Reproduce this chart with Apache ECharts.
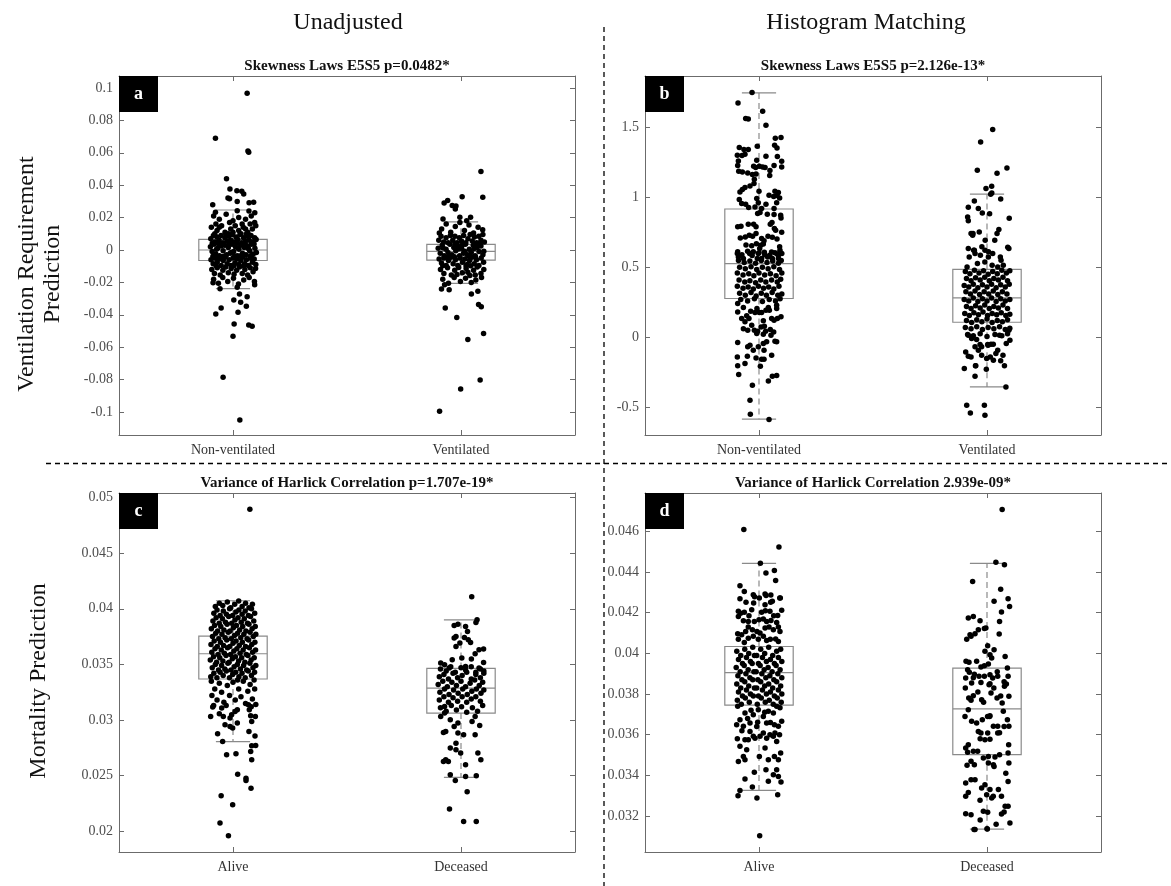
<!DOCTYPE html>
<html>
<head>
<meta charset="utf-8">
<title>Boxplots</title>
<script src="https://cdn.jsdelivr.net/npm/echarts@6/dist/echarts.min.js"></script>
<style>
html, body { margin: 0; padding: 0; background: #fff; }
#chart { width: 1171px; height: 886px; }
</style>
</head>
<body>
<div id="chart"></div>
<script>
// ---- data ----
const ventCategories = ['Non-ventilated', 'Ventilated']
const mortCategories = ['Alive', 'Deceased']
const groupPositions = [1, 3]

const ticksA = [-0.1, -0.08, -0.06, -0.04, -0.02, 0, 0.02, 0.04, 0.06, 0.08, 0.1]
const tickLabelsA = ['-0.1', '-0.08', '-0.06', '-0.04', '-0.02', '0', '0.02', '0.04', '0.06', '0.08', '0.1']
const ticksB = [-0.5, 0, 0.5, 1, 1.5]
const tickLabelsB = ['-0.5', '0', '0.5', '1', '1.5']
const ticksC = [0.02, 0.025, 0.03, 0.035, 0.04, 0.045, 0.05]
const tickLabelsC = ['0.02', '0.025', '0.03', '0.035', '0.04', '0.045', '0.05']
const ticksD = [0.032, 0.034, 0.036, 0.038, 0.04, 0.042, 0.044, 0.046]
const tickLabelsD = ['0.032', '0.034', '0.036', '0.038', '0.04', '0.042', '0.044', '0.046']

// box stats: [lower whisker, q1, median, q3, upper whisker]
const boxesA = [[-0.0239, -0.0065, 0.0, 0.0065, 0.0247], [-0.0206, -0.0062, -0.0009, 0.0035, 0.0173]]
const boxesB = [[-0.587, 0.277, 0.527, 0.918, 1.749], [-0.356, 0.107, 0.281, 0.485, 1.024]]
const boxesC = [[0.02806, 0.03369, 0.03596, 0.03755, 0.04072], [0.02485, 0.03063, 0.03288, 0.03464, 0.03901]]
const boxesD = [[0.03326, 0.03746, 0.03905, 0.04034, 0.04443], [0.03136, 0.03502, 0.03727, 0.03928, 0.04443]]

// points: [jitter from group centre, value]
const ptsANonVent = [
  [0.124,0.0967],[-0.154,0.0689],[0.131,0.0611],[0.138,0.0603],[-0.057,0.044],[-0.027,0.0377],[0.034,0.0366],[0.077,0.0362],
  [0.094,0.0346],[-0.044,0.0321],[-0.03,0.0317],[-0.178,0.028],[0.037,0.03],[0.141,0.0292],[0.181,0.0294],[-0.154,0.0233],
  [0.037,0.0243],[0.191,0.023],[-0.175,-0.0202],[-0.114,-0.0239],[0.037,-0.023],[0.057,-0.0272],[0.124,-0.0288],[0.007,-0.0309],
  [0.067,-0.0323],[0.117,-0.0348],[-0.104,-0.0358],[-0.151,-0.0395],[0.044,-0.0385],[0.01,-0.0457],[0.138,-0.0463],[0.168,-0.0471],
  [0,-0.0533],[-0.087,-0.0786],[0.06,-0.1049],
  [-0.17,0.021],[-0.12,0.019],[-0.06,0.022],[0.0,0.018],[0.05,0.02],[0.11,0.019],[0.16,0.021],[-0.15,0.016],[-0.03,0.017],[0.08,0.016],[0.19,0.017],[0.14,0.024],
  [-0.19,0.014],[-0.14,0.012],[-0.1,0.015],[-0.07,0.011],[-0.02,0.013],[0.02,0.015],[0.05,0.012],[0.09,0.014],[0.13,0.011],[0.17,0.013],[0.2,0.015],[-0.16,0.01],
  [-0.04,0.01],[0.07,0.01],[0.15,0.016],[0.0,0.011],[-0.12,0.014],[0.11,0.013],
  [-0.195,0.007],[-0.172,0.009],[-0.158,0.005],[-0.141,0.008],[-0.122,0.006],[-0.105,0.009],[-0.088,0.0045],[-0.071,0.0075],[-0.052,0.0055],[-0.036,0.0085],
  [-0.018,0.006],[-0.004,0.0095],[0.012,0.005],[0.027,0.008],[0.043,0.0065],[0.061,0.0095],[0.077,0.0045],[0.093,0.0075],[0.109,0.0055],[0.126,0.0085],
  [0.142,0.006],[0.158,0.009],[0.174,0.005],[0.19,0.0075],[0.203,0.0065],[-0.182,0.0042],[-0.063,0.0098],[0.036,0.0043],[0.118,0.0098],[0.167,0.0041],
  [-0.198,0.002],[-0.183,-0.001],[-0.167,0.0035],[-0.151,-0.0025],[-0.135,0.001],[-0.119,-0.0035],[-0.103,0.0025],[-0.087,-0.0005],[-0.071,0.003],[-0.056,-0.003],
  [-0.041,0.0015],[-0.025,-0.002],[-0.009,0.0035],[0.006,-0.001],[0.021,0.002],[0.037,-0.0035],[0.052,0.0005],[0.068,0.003],[0.083,-0.002],[0.099,0.0015],
  [0.114,-0.003],[0.13,0.0025],[0.146,-0.0005],[0.161,0.0035],[0.177,-0.0025],[0.192,0.001],[0.205,-0.0015],[-0.176,-0.0038],[-0.127,0.0038],[-0.078,-0.0038],
  [-0.032,0.0037],[0.015,-0.0039],[0.061,-0.0037],[0.107,0.0039],[0.155,-0.0036],[0.185,0.0037],[-0.145,0.0005],[0.045,0.0012],[-0.015,-0.0015],[0.136,0.0008],
  [-0.193,-0.006],[-0.174,-0.0085],[-0.157,-0.005],[-0.139,-0.0075],[-0.121,-0.0055],[-0.104,-0.0095],[-0.086,-0.0065],[-0.069,-0.0045],[-0.051,-0.0085],[-0.034,-0.006],
  [-0.017,-0.0095],[0.0,-0.005],[0.017,-0.008],[0.034,-0.0055],[0.051,-0.009],[0.068,-0.0065],[0.085,-0.0045],[0.101,-0.0085],[0.118,-0.006],[0.135,-0.0095],
  [0.152,-0.005],[0.169,-0.0075],[0.186,-0.0055],[0.2,-0.009],[-0.148,-0.0098],[-0.095,-0.0042],[0.008,-0.0098],[0.093,-0.0097],[0.16,-0.0042],
  [-0.186,-0.012],[-0.163,-0.0145],[-0.138,-0.011],[-0.112,-0.0155],[-0.089,-0.0125],[-0.064,-0.0105],[-0.041,-0.014],[-0.016,-0.0115],[0.009,-0.015],[0.032,-0.0125],
  [0.057,-0.0105],[0.081,-0.0145],[0.104,-0.012],[0.128,-0.0155],[0.151,-0.011],[0.176,-0.0135],[0.198,-0.0115],
  [-0.17,-0.018],[-0.128,-0.0205],[-0.09,-0.017],[-0.046,-0.0195],[0.004,-0.0175],[0.048,-0.021],[0.094,-0.0185],[0.142,-0.017],[0.188,-0.0195],[0.19,-0.0215]
]
const ptsAVent = [
  [0.175,0.0484],[0.01,0.0329],[0.191,0.0325],[-0.148,0.029],[-0.117,0.0305],[-0.077,0.0274],[-0.05,0.0253],[-0.044,0.0272],[-0.158,0.0191],[-0.01,0.0202],[0.084,0.0202],
  [-0.171,-0.0241],[-0.104,-0.0245],[-0.144,-0.0214],[0.091,-0.0272],[0.148,-0.0255],[-0.138,-0.0358],[0.154,-0.0337],[0.178,-0.035],[-0.037,-0.0416],
  [0.198,-0.0516],[0.06,-0.0553],[0.168,-0.0802],[-0.003,-0.0858],[-0.188,-0.0996],
  [-0.17,0.013],[-0.13,0.016],[-0.09,0.011],[-0.05,0.0145],[-0.01,0.017],[0.03,0.012],[0.07,0.0155],[0.11,0.0105],[0.15,0.014],[-0.19,0.0105],[0.19,0.0125],[0.05,0.018],
  [-0.195,0.006],[-0.175,0.0085],[-0.152,0.005],[-0.131,0.0075],[-0.112,0.0045],[-0.093,0.009],[-0.072,0.006],[-0.053,0.0085],[-0.034,0.0045],[-0.015,0.0075],
  [0.004,0.0055],[0.023,0.009],[0.042,0.0045],[0.061,0.007],[0.08,0.0095],[0.099,0.0055],[0.118,0.008],[0.137,0.0045],[0.156,0.0085],[0.175,0.006],[0.192,0.0095],[0.205,0.005],
  [-0.2,0.001],[-0.182,-0.002],[-0.165,0.003],[-0.148,-0.0035],[-0.131,0.0005],[-0.114,-0.0015],[-0.097,0.0035],[-0.08,-0.003],[-0.063,0.0015],[-0.046,-0.0005],
  [-0.029,0.0025],[-0.012,-0.0035],[0.005,0.001],[0.022,-0.002],[0.039,0.0035],[0.056,-0.003],[0.073,0.0005],[0.09,-0.0015],[0.107,0.003],[0.124,-0.0035],
  [0.141,0.0015],[0.158,-0.001],[0.175,0.0025],[0.192,-0.003],[-0.157,0.0012],[-0.105,-0.0038],[-0.052,0.0038],[0.013,0.0032],[0.065,-0.0038],[0.116,0.0009],
  [0.166,0.0038],[0.2,-0.0008],[-0.02,0.0008],[0.032,-0.0008],
  [-0.192,-0.0055],[-0.171,-0.008],[-0.151,-0.005],[-0.13,-0.0095],[-0.11,-0.0065],[-0.089,-0.0045],[-0.069,-0.0085],[-0.048,-0.006],[-0.028,-0.0095],[-0.007,-0.005],
  [0.013,-0.0075],[0.034,-0.0055],[0.054,-0.009],[0.075,-0.0065],[0.095,-0.0045],[0.116,-0.0085],[0.136,-0.006],[0.157,-0.0095],[0.177,-0.005],[0.198,-0.0075],
  [-0.16,-0.0098],[-0.058,-0.0042],[0.044,-0.0098],[0.126,-0.0042],[0.085,-0.0098],[-0.118,-0.0045],
  [-0.18,-0.012],[-0.15,-0.0145],[-0.118,-0.011],[-0.085,-0.0155],[-0.055,-0.0125],[-0.02,-0.0108],[0.012,-0.014],[0.045,-0.0115],[0.078,-0.0158],[0.11,-0.0125],
  [0.142,-0.0105],[0.175,-0.0145],[0.2,-0.012],[-0.035,-0.0152],[0.06,-0.0138],[0.125,-0.0155],
  [-0.16,-0.018],[-0.11,-0.0205],[-0.06,-0.017],[-0.005,-0.0195],[0.04,-0.0175],[0.09,-0.02],[0.13,-0.0185],[0.18,-0.017]
]
const ptsBNonVent = [
  [-0.061,1.751],[-0.184,1.677],[0.032,1.618],[-0.117,1.565],[-0.094,1.563],[0.061,1.518],[0.193,1.429],[0.143,1.424],[0.137,1.374],[0.158,1.355],
  [-0.015,1.367],[-0.173,1.358],[-0.132,1.343],[-0.094,1.343],[-0.19,1.303],[-0.149,1.3],[-0.123,1.31],[0.199,1.26],[0.161,1.293],[0.061,1.296],
  [-0.02,1.267],[-0.181,1.262],[0.199,1.219],[0.132,1.229],[0.096,1.193],[0.094,1.157],[-0.047,1.224],[-0.029,1.215],[0.003,1.224],[0.032,1.219],
  [0.053,1.215],[-0.187,1.229],[-0.178,1.188],[-0.146,1.183],[-0.099,1.176],[-0.058,1.164],[-0.026,1.169],[-0.041,1.131],[-0.044,1.1],[-0.079,1.083],
  [-0.123,1.071],[-0.146,1.057],[-0.167,1.04],[0.0,1.045],[0.14,1.045],[0.17,1.036],[0.158,1.014],[0.181,0.997],[0.129,1.007],[0.088,1.016],
  [-0.173,0.985],[-0.152,0.957],[-0.117,0.952],[-0.091,0.928],[-0.02,0.993],[-0.006,0.962],[0.023,0.921],[-0.035,0.933],[0.061,0.952],[0.155,0.962],
  [0.132,0.921],[-0.012,0.885],[0.009,0.892],[0.073,0.88],[0.132,0.878],[0.19,0.873],[0.193,0.854],[-0.187,0.79],[-0.158,0.795],[-0.094,0.809],
  [-0.047,0.809],[-0.026,0.79],[0.099,0.809],[0.135,0.778],[0.146,0.766],[0.199,0.752],[0.114,0.821],[-0.164,0.711],[-0.12,0.718],[-0.085,0.73],
  [-0.056,0.723],[-0.026,0.742],[0.023,0.706],[0.044,0.69],[0.079,0.723],[0.117,0.716],[0.158,0.704],[-0.114,0.661],[-0.064,0.654],[-0.023,0.67],
  [0.015,0.659],[0.038,0.668],[0.181,0.647],[0.184,0.623],[-0.187,0.611],[-0.082,0.599],[-0.05,0.611],[-0.006,0.599],[0.047,0.608],[0.094,0.587],
  [0.14,0.604],[0.17,0.587],[0.006,0.635],[-0.181,0.575],[-0.137,0.563],[-0.015,0.563],[0.023,0.563],[0.076,0.575],[0.117,0.563],[0.17,0.563],
  [-0.19,0.6],[-0.15,0.59],[-0.1,0.615],[-0.06,0.585],[0.0,0.605],[0.05,0.59],[0.11,0.61],[0.16,0.595],[0.2,0.6],
  [-0.18,0.55],[-0.13,0.535],[-0.08,0.545],[-0.03,0.53],[0.02,0.55],[0.07,0.535],[0.12,0.545],[0.17,0.53],[0.195,0.55],
  [-0.17,0.5],[-0.12,0.49],[-0.07,0.505],[-0.02,0.485],[0.03,0.5],[0.08,0.49],[0.13,0.505],[0.18,0.485],
  [-0.19,0.46],[-0.14,0.445],[-0.09,0.455],[-0.045,0.44],[0.0,0.46],[0.05,0.445],[0.1,0.455],[0.15,0.44],[0.2,0.46],
  [-0.175,0.41],[-0.125,0.395],[-0.08,0.405],[-0.03,0.39],[0.015,0.41],[0.06,0.395],[0.11,0.41],[0.16,0.395],[0.19,0.415],
  [-0.19,0.365],[-0.14,0.35],[-0.095,0.36],[-0.05,0.345],[-0.005,0.365],[0.04,0.35],[0.085,0.36],[0.13,0.345],[0.175,0.365],
  [-0.17,0.315],[-0.12,0.3],[-0.07,0.32],[-0.025,0.295],[0.02,0.315],[0.065,0.3],[0.115,0.32],[0.165,0.3],[0.2,0.31],
  [-0.16,0.27],[-0.1,0.26],[-0.04,0.275],[0.03,0.255],[0.09,0.27],[0.145,0.26],[0.185,0.275],
  [-0.187,0.241],[-0.137,0.212],[-0.187,0.181],[-0.073,0.186],[-0.018,0.205],[0.003,0.177],[0.082,0.212],[0.061,0.193],[0.091,0.193],[0.155,0.229],
  [0.155,0.205],[0.193,0.146],[0.161,0.134],[0.132,0.122],[0.111,0.134],[0.023,0.177],[-0.035,0.177],[-0.108,0.153],[-0.152,0.134],[-0.088,0.134],
  [-0.123,0.11],[-0.137,0.06],[-0.099,0.05],[-0.064,0.086],[-0.041,0.05],[-0.012,0.043],[0.018,0.074],[0.047,0.079],[0.038,0.117],[0.058,0.043],
  [0.038,0.021],[0.099,0.055],[0.129,0.038],[-0.02,0.026],[0.105,0.014],[-0.187,-0.038],[-0.099,-0.069],[-0.079,-0.057],[-0.05,-0.093],[-0.006,-0.069],
  [0.038,-0.045],[0.067,-0.033],[0.044,-0.093],[0.14,-0.029],[0.155,-0.033],[-0.19,-0.141],[-0.102,-0.136],[-0.026,-0.148],[0.023,-0.157],[0.044,-0.157],
  [0.111,-0.129],[-0.187,-0.205],[-0.123,-0.188],[0.012,-0.208],[-0.178,-0.267],[0.117,-0.279],[0.155,-0.274],[0.082,-0.313],[-0.058,-0.344],[-0.079,-0.451],
  [-0.076,-0.551],[0.088,-0.589]
]
const ptsBVent = [
  [0.05,1.487],[-0.056,1.398],[-0.085,1.195],[-0.009,1.064],[0.041,1.081],[0.032,1.024],[-0.111,0.976],[-0.164,0.931],[-0.076,0.921],[-0.041,0.89],
  [0.023,0.883],[-0.17,0.861],[-0.164,0.833],[-0.14,0.742],[-0.126,0.73],[-0.164,0.635],[-0.111,0.623],[-0.105,0.599],[-0.058,0.587],[-0.018,0.623],
  [0.05,0.599],[0.012,0.575],[0.088,1.174],[0.175,1.212],[0.042,1.033],[0.12,0.99],[0.195,0.852],[0.104,0.771],[0.088,0.742],[0.182,0.644],
  [0.192,0.635],[0.117,0.575],[0.123,0.551],[0.094,0.503],[0.068,0.694],[-0.016,0.694],[-0.068,0.754],[-0.123,0.742],[-0.045,0.647],[-0.117,0.623],
  [0.013,0.611],[-0.156,0.575],[-0.084,0.527],[-0.019,0.539],[0.045,0.515],[0.143,0.515],[-0.175,0.503],
  [-0.19,0.47],[-0.15,0.455],[-0.11,0.48],[-0.07,0.46],[-0.03,0.475],[0.01,0.45],[0.05,0.47],[0.09,0.455],[0.13,0.48],[0.17,0.46],[0.2,0.475],
  [-0.18,0.42],[-0.14,0.405],[-0.1,0.425],[-0.06,0.41],[-0.02,0.43],[0.02,0.405],[0.06,0.42],[0.1,0.41],[0.14,0.43],[0.18,0.405],
  [-0.2,0.37],[-0.16,0.36],[-0.12,0.38],[-0.08,0.355],[-0.04,0.375],[0.0,0.36],[0.04,0.38],[0.08,0.355],[0.12,0.375],[0.16,0.36],[0.195,0.38],
  [-0.185,0.325],[-0.145,0.31],[-0.105,0.33],[-0.065,0.305],[-0.025,0.325],[0.015,0.31],[0.055,0.33],[0.095,0.305],[0.135,0.325],[0.175,0.31],
  [-0.2,0.27],[-0.16,0.26],[-0.12,0.28],[-0.08,0.255],[-0.04,0.275],[0.0,0.26],[0.04,0.28],[0.08,0.255],[0.12,0.275],[0.16,0.26],[0.2,0.27],
  [-0.18,0.22],[-0.14,0.205],[-0.1,0.225],[-0.06,0.21],[-0.02,0.23],[0.02,0.205],[0.06,0.22],[0.1,0.21],[0.14,0.23],[0.18,0.205],
  [-0.195,0.17],[-0.155,0.155],[-0.115,0.175],[-0.075,0.16],[-0.035,0.18],[0.005,0.155],[0.045,0.17],[0.085,0.16],[0.125,0.175],[0.165,0.155],[0.2,0.165],
  [-0.18,0.12],[-0.135,0.105],[-0.09,0.125],[-0.045,0.11],[0.0,0.13],[0.045,0.105],[0.09,0.12],[0.135,0.11],[0.18,0.125],
  [-0.19,0.07],[-0.14,0.06],[-0.09,0.075],[-0.04,0.055],[0.01,0.07],[0.06,0.06],[0.11,0.075],[0.16,0.055],[0.2,0.065],
  [-0.17,0.02],[-0.12,0.01],[-0.06,0.025],[0.0,0.005],[0.07,0.02],[0.13,0.01],[0.18,0.025],
  [-0.164,0.014],[-0.135,-0.01],[-0.091,-0.017],[-0.061,-0.052],[-0.047,-0.069],[-0.105,-0.069],[0.006,-0.052],[0.035,-0.05],[-0.187,-0.105],[-0.164,-0.136],
  [-0.14,-0.141],[-0.076,-0.093],[-0.047,-0.129],[-0.003,-0.153],[0.056,-0.165],[-0.199,-0.224],[-0.099,-0.205],[-0.006,-0.229],[-0.105,-0.279],[-0.178,-0.487],
  [-0.023,-0.487],[-0.146,-0.542],[-0.018,-0.558],[0.166,-0.356],[0.153,-0.205],[0.12,-0.169],[0.14,-0.129],[0.094,-0.093],[0.201,-0.021],[0.169,-0.045],
  [0.055,-0.05],[0.01,-0.057],[0.11,0.014],[0.192,0.05],[-0.101,-0.205],[0.078,-0.117],[0.029,-0.141]
]
const ptsCAlive = [
  [0.148,0.04895],[-0.104,0.0232],[-0.003,0.0224],[-0.114,0.02075],[-0.04,0.01961],
  [-0.178,0.03117],[-0.099,0.03108],[-0.196,0.03033],[-0.12,0.03057],[-0.085,0.03033],[-0.026,0.03018],[-0.012,0.03048],[0.018,0.03078],[0.038,0.03093],[0.135,0.03138],
  [0.143,0.03093],[0.155,0.03039],[0.196,0.03033],[0.164,0.02988],[-0.07,0.02958],[-0.026,0.02943],[-0.003,0.02928],[0.038,0.02973],[-0.135,0.02877],[-0.091,0.02808],
  [0.14,0.02898],[0.193,0.02856],[-0.056,0.02688],[0.026,0.02697],[0.164,0.02769],[0.199,0.02772],[0.155,0.02718],[0.164,0.02643],[0.041,0.02514],[0.114,0.02478],
  [0.114,0.02457],[0.158,0.02388],
  [-0.19,0.0335],[-0.16,0.0328],[-0.185,0.0322],[-0.14,0.0318],[-0.12,0.0333],[-0.1,0.0325],[-0.08,0.0316],[-0.05,0.0331],[-0.03,0.0322],[0.0,0.0334],
  [0.02,0.0318],[0.05,0.0328],[0.07,0.0321],[0.09,0.0335],[0.11,0.0315],[0.13,0.0326],[0.15,0.0332],[0.17,0.0319],[0.19,0.0328],[0.2,0.0314],
  [-0.06,0.0313],[0.04,0.0336],[-0.17,0.0313],[0.16,0.0312],[0.185,0.0336],
  [-0.195,0.0339],[-0.168,0.0342],[-0.141,0.0338],[-0.113,0.0343],[-0.086,0.034],[-0.058,0.0344],[-0.031,0.0338],[-0.003,0.0341],[0.024,0.0343],[0.052,0.0339],
  [0.079,0.0342],[0.107,0.0338],[0.134,0.0344],[0.162,0.034],[0.189,0.0343],
  [-0.182,0.0347],[-0.155,0.035],[-0.127,0.0345],[-0.1,0.0349],[-0.072,0.0346],[-0.045,0.0351],[-0.017,0.0345],[0.01,0.0348],[0.038,0.035],[0.065,0.0346],
  [0.093,0.0349],[0.12,0.0345],[0.148,0.0351],[0.175,0.0347],[0.2,0.0349],
  [-0.199,0.0354],[-0.171,0.0357],[-0.144,0.0352],[-0.116,0.0356],[-0.089,0.0353],[-0.061,0.0358],[-0.034,0.0352],[-0.006,0.0355],[0.021,0.0357],[0.049,0.0353],
  [0.076,0.0356],[0.104,0.0352],[0.131,0.0358],[0.159,0.0354],[0.186,0.0356],
  [-0.186,0.0361],[-0.158,0.0364],[-0.131,0.0359],[-0.103,0.0363],[-0.076,0.036],[-0.048,0.0365],[-0.021,0.0359],[0.007,0.0362],[0.034,0.0364],[0.062,0.036],
  [0.089,0.0363],[0.117,0.0359],[0.144,0.0365],[0.172,0.0361],[0.198,0.0363],
  [-0.193,0.0368],[-0.165,0.0371],[-0.138,0.0366],[-0.11,0.037],[-0.083,0.0367],[-0.055,0.0372],[-0.028,0.0366],[0.0,0.0369],[0.027,0.0371],[0.055,0.0367],
  [0.082,0.037],[0.11,0.0366],[0.137,0.0372],[0.165,0.0368],[0.192,0.037],
  [-0.18,0.0375],[-0.152,0.0378],[-0.125,0.0373],[-0.097,0.0377],[-0.07,0.0374],[-0.042,0.0379],[-0.015,0.0373],[0.013,0.0376],[0.04,0.0378],[0.068,0.0374],
  [0.095,0.0377],[0.123,0.0373],[0.15,0.0379],[0.178,0.0375],[0.2,0.0377],
  [-0.19,0.0382],[-0.162,0.0385],[-0.135,0.038],[-0.107,0.0384],[-0.08,0.0381],[-0.052,0.0386],[-0.025,0.038],[0.003,0.0383],[0.03,0.0385],[0.058,0.0381],
  [0.085,0.0384],[0.113,0.038],[0.14,0.0386],[0.168,0.0382],[0.195,0.0384],
  [-0.176,0.0389],[-0.148,0.0392],[-0.121,0.0387],[-0.093,0.0391],[-0.066,0.0388],[-0.038,0.0393],[-0.011,0.0387],[0.017,0.039],[0.044,0.0392],[0.072,0.0388],
  [0.099,0.0391],[0.127,0.0387],[0.154,0.0393],[0.182,0.0389],
  [-0.168,0.0396],[-0.14,0.0399],[-0.113,0.0394],[-0.085,0.0398],[-0.058,0.0395],[-0.03,0.04],[-0.003,0.0394],[0.025,0.0397],[0.052,0.0399],[0.08,0.0395],
  [0.107,0.0398],[0.135,0.0394],[0.162,0.04],[0.19,0.0396],
  [-0.155,0.0402],[-0.12,0.0405],[-0.09,0.0403],[-0.05,0.0406],[-0.02,0.0401],[0.015,0.0404],[0.05,0.0407],[0.08,0.0402],[0.11,0.0405],[0.14,0.0401],[0.17,0.0404]
]
const ptsCDeceased = [
  [0.094,0.04108],[0.141,0.03901],[0.131,0.03877],[-0.06,0.0385],[-0.027,0.03862],[0.04,0.03841],[0.057,0.03796],[0.03,0.03743],[0.064,0.03722],[0.084,0.03698],
  [-0.044,0.03751],[-0.06,0.03737],[-0.044,0.03662],[-0.01,0.03692],[0.158,0.03632],[0.198,0.03638],[0.124,0.03596],[0.091,0.03548],[0.198,0.03518],[-0.178,0.03512],
  [-0.144,0.03497],[-0.104,0.03467],[-0.077,0.03542],[0.007,0.03557],[0.04,0.03482],[0.158,0.03467],
  [-0.154,0.02889],[-0.134,0.02898],[-0.027,0.02883],[0.023,0.02868],[0.124,0.02868],[-0.094,0.02749],[-0.044,0.02734],[-0.003,0.02704],[-0.134,0.02644],[-0.111,0.02629],
  [-0.154,0.02629],[0.148,0.02704],[0.174,0.02644],[-0.094,0.02509],[-0.05,0.02458],[0.04,0.02494],[0.134,0.025],[0.054,0.02356],[-0.101,0.02201],[0.023,0.0209],
  [0.134,0.0209],[0.04,0.02599],[-0.044,0.02793],[-0.06,0.02943],[-0.027,0.02973],[-0.094,0.03003],[-0.144,0.03063],[0.164,0.02952],[0.097,0.02988],[0.124,0.03033],
  [-0.178,0.03033],[-0.144,0.03123],
  [-0.18,0.0346],[-0.13,0.0344],[-0.09,0.0348],[-0.05,0.0343],[0.0,0.0347],[0.04,0.0345],[0.09,0.0348],[0.13,0.0343],[0.17,0.0346],[0.2,0.0344],
  [-0.19,0.0339],[-0.15,0.0341],[-0.11,0.0337],[-0.07,0.0342],[-0.03,0.0338],[0.01,0.034],[0.05,0.0343],[0.09,0.0337],[0.13,0.0341],[0.17,0.0338],[0.2,0.0342],
  [-0.2,0.0332],[-0.16,0.0335],[-0.12,0.033],[-0.08,0.0334],[-0.04,0.0331],[0.0,0.0335],[0.04,0.033],[0.08,0.0333],[0.12,0.0336],[0.16,0.0331],[0.19,0.0334],
  [-0.185,0.0325],[-0.145,0.0328],[-0.105,0.0323],[-0.065,0.0327],[-0.025,0.0324],[0.015,0.0328],[0.055,0.0323],[0.095,0.0326],[0.135,0.0328],[0.175,0.0324],[0.2,0.0327],
  [-0.19,0.0318],[-0.15,0.0321],[-0.11,0.0316],[-0.07,0.032],[-0.03,0.0317],[0.01,0.0321],[0.05,0.0316],[0.09,0.0319],[0.13,0.0321],[0.17,0.0317],
  [-0.18,0.0311],[-0.13,0.0308],[-0.085,0.0313],[-0.04,0.0309],[0.005,0.0312],[0.05,0.0307],[0.1,0.0311],[0.145,0.0308],[0.19,0.0313]
]
const ptsDAlive = [
  [-0.133,0.0461],[0.175,0.04523],[0.012,0.04444],[0.061,0.04395],[0.135,0.04408],[0.146,0.04359],[-0.167,0.04333],[-0.129,0.04305],[-0.05,0.04289],[0.053,0.04292],
  [-0.167,0.04269],[-0.114,0.04252],[-0.047,0.04248],[0.003,0.04272],[0.117,0.04256],[0.102,0.04251],[0.187,0.04272],[0.053,0.04239],[-0.181,0.04207],[-0.161,0.04198],
  [-0.129,0.04202],[-0.088,0.04185],[-0.064,0.04215],[0.023,0.04202],[0.056,0.0421],[0.096,0.04207],[0.129,0.04185],[0.164,0.04187],[0.199,0.04212],[-0.181,0.04182],
  [-0.137,0.04161],[-0.094,0.04157],[-0.041,0.04157],[0.0,0.04166],[0.038,0.04169],[0.067,0.04157],[0.105,0.04162],[0.155,0.04152],[-0.187,0.04097],[-0.152,0.04092],
  [-0.117,0.04108],[-0.094,0.0413],[-0.058,0.04116],[-0.018,0.04108],[0.009,0.041],[0.053,0.04125],[0.088,0.0413],[0.126,0.04116],[0.17,0.0413],[0.184,0.04108],
  [-0.181,0.04069],[-0.129,0.04054],[-0.094,0.04075],[-0.05,0.04084],[-0.006,0.04069],[0.038,0.04084],[0.067,0.04064],[0.099,0.04069],[0.146,0.04071],[0.17,0.04059],
  [-0.039,0.04279],[0.062,0.04285],[0.104,0.04287],[0.182,0.04272],
  [-0.195,0.0401],[-0.16,0.0399],[-0.125,0.0402],[-0.09,0.04],[-0.055,0.0403],[-0.02,0.0399],[0.015,0.0402],[0.05,0.04],[0.085,0.0403],[0.12,0.0399],[0.155,0.0401],[0.19,0.0402],
  [-0.18,0.0397],[-0.145,0.0395],[-0.11,0.0398],[-0.075,0.0396],[-0.04,0.0399],[-0.005,0.0395],[0.03,0.0398],[0.065,0.0396],[0.1,0.0397],[0.135,0.0395],[0.17,0.0398],[0.2,0.0396],
  [-0.2,0.0393],[-0.165,0.0391],[-0.13,0.0394],[-0.095,0.0392],[-0.06,0.0395],[-0.025,0.0391],[0.01,0.0394],[0.045,0.0392],[0.08,0.0393],[0.115,0.0391],[0.15,0.0394],[0.185,0.0392],
  [-0.185,0.0389],[-0.15,0.0387],[-0.115,0.039],[-0.08,0.0388],[-0.045,0.0391],[-0.01,0.0387],[0.025,0.039],[0.06,0.0388],[0.095,0.0389],[0.13,0.0387],[0.165,0.039],[0.2,0.0388],
  [-0.195,0.0385],[-0.16,0.0383],[-0.125,0.0386],[-0.09,0.0384],[-0.055,0.0387],[-0.02,0.0383],[0.015,0.0386],[0.05,0.0384],[0.085,0.0385],[0.12,0.0383],[0.155,0.0386],[0.19,0.0384],
  [-0.18,0.0381],[-0.145,0.0379],[-0.11,0.0382],[-0.075,0.038],[-0.04,0.0383],[-0.005,0.0379],[0.03,0.0382],[0.065,0.038],[0.1,0.0381],[0.135,0.0379],[0.17,0.0382],[0.2,0.038],
  [-0.19,0.0377],[-0.155,0.0375],[-0.12,0.0378],[-0.085,0.0376],[-0.05,0.0379],[-0.015,0.0375],[0.02,0.0378],[0.055,0.0376],[0.09,0.0377],[0.125,0.0375],[0.16,0.0378],[0.195,0.0376],
  [-0.187,0.0374],[-0.123,0.03707],[-0.167,0.03674],[-0.196,0.03649],[-0.137,0.03641],[-0.079,0.03657],[-0.05,0.03698],[-0.006,0.03723],[0.038,0.0369],[0.082,0.03715],
  [0.126,0.03707],[0.155,0.0374],[0.184,0.03732],[0.199,0.03666],[0.17,0.03641],[0.135,0.03649],[0.067,0.03657],[-0.012,0.03661],[-0.079,0.03616],[-0.05,0.03592],
  [-0.094,0.03575],[-0.035,0.03583],[0.009,0.03592],[0.038,0.03608],[0.067,0.03583],[0.096,0.036],[0.126,0.03592],[0.14,0.03608],[0.155,0.03567],[-0.123,0.03575],
  [-0.167,0.03543],[-0.108,0.03526],[-0.137,0.03493],[-0.181,0.03468],[-0.123,0.03477],[0.003,0.03493],[0.082,0.03477],[0.135,0.03493],[0.17,0.03477],[0.19,0.0351],
  [0.053,0.03535],[0.155,0.03428],[0.061,0.03428],[-0.041,0.03415],[-0.123,0.03382],[0.126,0.03403],[0.17,0.03395],[0.082,0.03371],[0.193,0.03367],[-0.167,0.03326],
  [-0.058,0.03343],[-0.184,0.033],[-0.018,0.03289],[0.164,0.03305],[0.006,0.03103],
  [-0.15,0.0362],[-0.1,0.0368],[-0.02,0.0364],[0.1,0.0366],[0.18,0.036],[-0.19,0.0358],[0.05,0.0371],[-0.07,0.0372]
]
const ptsDDeceased = [
  [0.133,0.04708],[0.078,0.04448],[0.153,0.04436],[-0.126,0.04354],[0.12,0.04316],[0.062,0.04256],[0.185,0.04269],[0.198,0.04231],[0.127,0.04203],[0.11,0.04157],
  [-0.01,0.04125],[0.107,0.04095],[-0.164,0.04174],[-0.12,0.04182],[-0.061,0.04161],[-0.023,0.04123],[-0.076,0.04116],[-0.178,0.0407],[-0.149,0.04092],[-0.105,0.04097],
  [-0.14,0.04084],[0.006,0.04038],[-0.018,0.0401],[0.026,0.03993],[0.041,0.03977],[-0.184,0.03961],[-0.158,0.03956],[-0.091,0.03961],[-0.053,0.03933],[-0.023,0.03939],
  [0.012,0.03948],[-0.155,0.03907],[-0.111,0.03897],[-0.07,0.03887],[-0.023,0.03887],[0.026,0.03895],[0.05,0.03879],[-0.187,0.03879],[-0.135,0.03854],[-0.053,0.03857],
  [0.018,0.03846],[0.062,0.04018],[0.159,0.03985],[0.179,0.03928],[0.185,0.03887],[0.094,0.03887],[0.153,0.03838],[0.192,0.03789],[0.088,0.0378],[0.133,0.03756],
  [0.143,0.03715],[0.179,0.03674],[0.192,0.03641],[0.094,0.03641],[0.023,0.0369],[0.094,0.03608],[0.185,0.0351],[0.192,0.03461],[0.11,0.03502],[0.062,0.03444],
  [0.185,0.0337],[0.127,0.03297],[0.055,0.03297],[0.159,0.03248],[0.185,0.03248],[0.127,0.0321],[0.201,0.03166],[0.003,0.03136],[-0.114,0.03134],
  [-0.14,0.03769],[-0.12,0.03792],[-0.047,0.03772],[0.035,0.03805],[0.026,0.03851],[-0.164,0.03723],[-0.193,0.0369],[-0.135,0.03666],[-0.091,0.03657],[-0.041,0.03674],
  [0.026,0.03693],[-0.076,0.03616],[-0.053,0.03608],[0.006,0.03608],[0.056,0.03641],[-0.018,0.03575],[0.026,0.03578],[-0.164,0.03551],[-0.187,0.03535],[-0.17,0.03514],
  [-0.12,0.03518],[-0.082,0.03518],[-0.14,0.03469],[-0.111,0.03452],[-0.032,0.03485],[0.012,0.03493],[0.012,0.03461],[0.056,0.03452],[-0.187,0.03362],[-0.14,0.03379],
  [-0.105,0.03379],[-0.164,0.03316],[-0.187,0.03297],[-0.047,0.03338],[-0.018,0.03354],[0.026,0.0333],[0.041,0.03289],[-0.061,0.03277],[-0.003,0.03305],[-0.032,0.03223],
  [-0.187,0.03211],[-0.14,0.03206],[0.006,0.03218],[-0.105,0.03134],[0.0,0.03137],
  [-0.19,0.0383],[-0.16,0.0378],[-0.08,0.0381],[-0.03,0.0376],[0.06,0.0383],[0.12,0.0379],[0.17,0.0385],[-0.12,0.0388],[0.09,0.0391],[-0.17,0.0392],
  [0.15,0.0386],[0.005,0.0369],[0.11,0.0361],[-0.06,0.0358],[0.15,0.0364],[0.19,0.0355],[0.07,0.0349],[0.165,0.0341],[-0.175,0.0345],[0.1,0.0333],
  [0.15,0.0322],[-0.06,0.0318],[0.08,0.0316]
]

// ---- layout and style ----
const FONT = "'Liberation Serif', 'Times New Roman', serif"
const AXIS_GREY = '#6b6b6b'
const BOX_GREY = '#8a8a8a'
const BOX_HALF = 0.3
const CAP_HALF = 0.15
const PLOT_W = 456
const PLOT_H = 359

const panels = [
  { letter: 'a', left: 119, top: 76, min: -0.1142, max: 0.1074, ticks: ticksA, labels: tickLabelsA, cats: ventCategories, boxes: boxesA, groups: [ptsANonVent, ptsAVent], title: 'Skewness Laws E5S5 p=0.0482*' },
  { letter: 'b', left: 645, top: 76, min: -0.70, max: 1.87, ticks: ticksB, labels: tickLabelsB, cats: ventCategories, boxes: boxesB, groups: [ptsBNonVent, ptsBVent], title: 'Skewness Laws E5S5 p=2.126e-13*' },
  { letter: 'c', left: 119, top: 493, min: 0.01815, max: 0.0504, ticks: ticksC, labels: tickLabelsC, cats: mortCategories, boxes: boxesC, groups: [ptsCAlive, ptsCDeceased], title: 'Variance of Harlick Correlation p=1.707e-19*' },
  { letter: 'd', left: 645, top: 493, min: 0.03023, max: 0.04789, ticks: ticksD, labels: tickLabelsD, cats: mortCategories, boxes: boxesD, groups: [ptsDAlive, ptsDDeceased], title: 'Variance of Harlick Correlation 2.939e-09*' }
]

function renderBox(params, api) {
  const pos = api.value(0)
  const pLo = api.coord([pos, api.value(1)])
  const pQ1 = api.coord([pos, api.value(2)])
  const pMed = api.coord([pos, api.value(3)])
  const pQ3 = api.coord([pos, api.value(4)])
  const pHi = api.coord([pos, api.value(5)])
  const half = api.size([BOX_HALF, 0])[0]
  const cap = api.size([CAP_HALF, 0])[0]
  const x = pMed[0]
  const solid = { stroke: BOX_GREY, lineWidth: 1.2, fill: 'none' }
  const dashed = { stroke: BOX_GREY, lineWidth: 1.2, lineDash: [6, 4] }
  return {
    type: 'group',
    children: [
      { type: 'line', shape: { x1: x, y1: pQ3[1], x2: x, y2: pHi[1] }, style: dashed },
      { type: 'line', shape: { x1: x, y1: pQ1[1], x2: x, y2: pLo[1] }, style: dashed },
      { type: 'line', shape: { x1: x - cap, y1: pHi[1], x2: x + cap, y2: pHi[1] }, style: solid },
      { type: 'line', shape: { x1: x - cap, y1: pLo[1], x2: x + cap, y2: pLo[1] }, style: solid },
      { type: 'rect', shape: { x: x - half, y: pQ3[1], width: half * 2, height: pQ1[1] - pQ3[1] }, style: solid },
      { type: 'line', shape: { x1: x - half, y1: pMed[1], x2: x + half, y2: pMed[1] }, style: solid }
    ]
  }
}

const grid = []
const xAxis = []
const yAxis = []
const series = []
const graphic = []

panels.forEach((p, i) => {
  grid.push({ left: p.left, top: p.top, width: PLOT_W, height: PLOT_H })
  const line = { show: true, onZero: false, lineStyle: { color: AXIS_GREY, width: 1 } }
  const tickStyle = { show: true, inside: true, length: 5, lineStyle: { color: AXIS_GREY } }

  xAxis.push({
    type: 'value', gridIndex: i, min: 0, max: 4, position: 'bottom',
    axisLine: line, splitLine: { show: false },
    axisTick: { ...tickStyle, customValues: groupPositions },
    axisLabel: {
      customValues: groupPositions, margin: 8, color: '#333', fontFamily: FONT, fontSize: 14,
      formatter: (v) => p.cats[groupPositions.indexOf(Math.round(v))]
    }
  })
  xAxis.push({
    type: 'value', gridIndex: i, min: 0, max: 4, position: 'top',
    axisLine: line, splitLine: { show: false },
    axisTick: { ...tickStyle, customValues: groupPositions },
    axisLabel: { show: false }
  })
  const labelFor = (v) => {
    let best = 0
    p.ticks.forEach((t, k) => { if (Math.abs(t - v) < Math.abs(p.ticks[best] - v)) best = k })
    return p.labels[best]
  }
  yAxis.push({
    type: 'value', gridIndex: i, min: p.min, max: p.max, position: 'left',
    axisLine: line, splitLine: { show: false },
    axisTick: { ...tickStyle, customValues: p.ticks },
    axisLabel: { customValues: p.ticks, margin: 6, color: '#4d4d4d', fontFamily: FONT, fontSize: 14, formatter: labelFor }
  })
  yAxis.push({
    type: 'value', gridIndex: i, min: p.min, max: p.max, position: 'right',
    axisLine: line, splitLine: { show: false },
    axisTick: { ...tickStyle, customValues: p.ticks },
    axisLabel: { show: false }
  })

  series.push({
    type: 'custom', xAxisIndex: i * 2, yAxisIndex: i * 2, renderItem: renderBox, silent: true, z: 2,
    encode: { x: 0, y: [1, 2, 3, 4, 5] },
    data: p.boxes.map((b, k) => [groupPositions[k], ...b])
  })
  p.groups.forEach((pts, k) => {
    series.push({
      type: 'scatter', xAxisIndex: i * 2, yAxisIndex: i * 2, z: 3, silent: true,
      symbol: 'circle', symbolSize: 5.5, itemStyle: { color: '#000', opacity: 1 },
      data: pts.map(([j, v]) => [groupPositions[k] + j, v])
    })
  })

  // panel title and letter badge
  graphic.push({
    type: 'text', x: p.left + PLOT_W / 2, y: p.top - 10,
    style: { text: p.title, font: `bold 15px ${FONT}`, fill: '#111', align: 'center', verticalAlign: 'middle' }
  })
  graphic.push({ type: 'rect', shape: { x: p.left, y: p.top, width: 39, height: 36 }, style: { fill: '#000' }, z: 10 })
  graphic.push({
    type: 'text', x: p.left + 19.5, y: p.top + 18, z: 11,
    style: { text: p.letter, font: `bold 18px ${FONT}`, fill: '#fff', align: 'center', verticalAlign: 'middle' }
  })
})

// column headings, row labels and dashed dividers
graphic.push(
  { type: 'text', x: 348, y: 23, style: { text: 'Unadjusted', font: `24px ${FONT}`, fill: '#111', align: 'center', verticalAlign: 'middle' } },
  { type: 'text', x: 866, y: 23, style: { text: 'Histogram Matching', font: `24px ${FONT}`, fill: '#111', align: 'center', verticalAlign: 'middle' } },
  { type: 'text', x: 27, y: 274, rotation: Math.PI / 2, style: { text: 'Ventilation Requirement', font: `24px ${FONT}`, fill: '#111', align: 'center', verticalAlign: 'middle' } },
  { type: 'text', x: 53, y: 274, rotation: Math.PI / 2, style: { text: 'Prediction', font: `24px ${FONT}`, fill: '#111', align: 'center', verticalAlign: 'middle' } },
  { type: 'text', x: 39, y: 681, rotation: Math.PI / 2, style: { text: 'Mortality Prediction', font: `24px ${FONT}`, fill: '#111', align: 'center', verticalAlign: 'middle' } },
  { type: 'line', shape: { x1: 604, y1: 27, x2: 604, y2: 886 }, style: { stroke: '#000', lineWidth: 1.3, lineDash: [5, 4] } },
  { type: 'line', shape: { x1: 46, y1: 463.5, x2: 1171, y2: 463.5 }, style: { stroke: '#000', lineWidth: 1.3, lineDash: [5, 4] } }
)

const chart = echarts.init(document.getElementById('chart'), null, { renderer: 'canvas' })
chart.setOption({
  animation: false,
  backgroundColor: '#fff',
  grid, xAxis, yAxis, series, graphic
})
window.addEventListener('resize', () => chart.resize())
</script>
</body>
</html>
